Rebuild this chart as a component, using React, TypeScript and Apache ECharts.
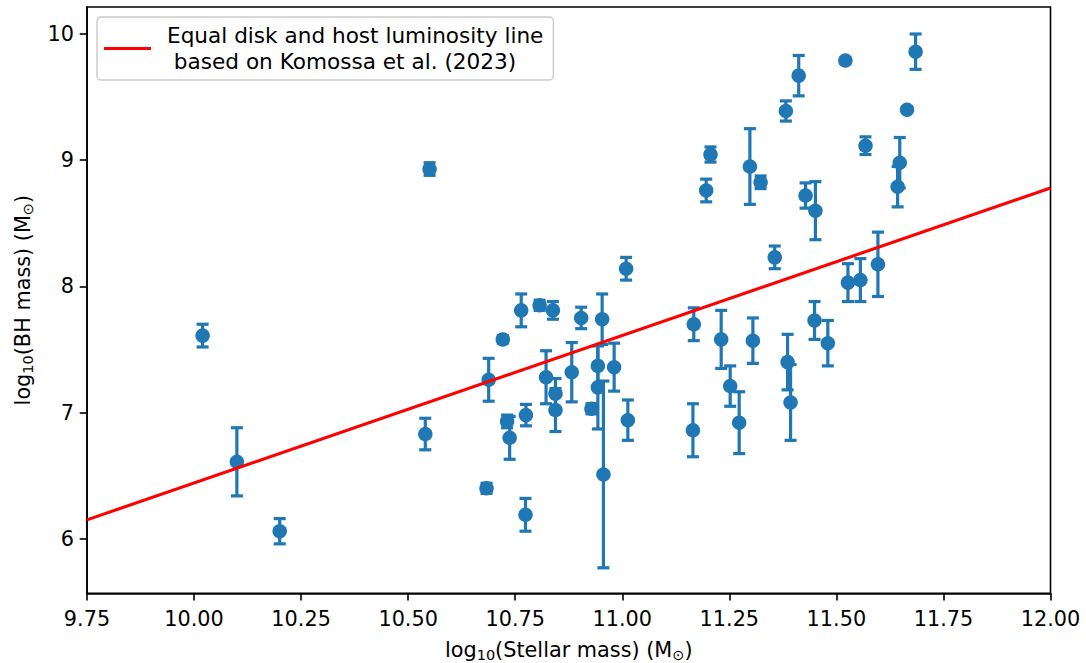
import React, { useEffect, useRef } from "react";
import * as echarts from "echarts";

// log10 stellar mass (x) and log10 BH mass (y) with symmetric 1-sigma errors
const stellarMass = [
  10.02, 10.10, 10.20, 10.54, 10.55, 10.683, 10.688, 10.721, 10.731, 10.737,
  10.764, 10.775, 10.774, 10.807, 10.822, 10.838, 10.844, 10.844, 10.882, 10.904,
  10.928, 10.943, 10.943, 10.953, 10.956, 10.981, 11.009, 11.013, 11.167, 11.165,
  11.196, 11.206, 11.231, 11.252, 11.273, 11.298, 11.305, 11.323, 11.356, 11.382,
  11.386, 11.393, 11.412, 11.428, 11.451, 11.449, 11.48, 11.521, 11.527, 11.556,
  11.568, 11.597, 11.643, 11.648, 11.665, 11.685,
];
const bhMass = [
  7.61, 6.61, 6.06, 6.83, 8.93, 6.40, 7.26, 7.58, 6.93, 6.80,
  7.81, 6.98, 6.19, 7.85, 7.28, 7.81, 7.15, 7.02, 7.32, 7.75,
  7.03, 7.37, 7.20, 7.74, 6.51, 7.36, 8.14, 6.94, 7.70, 6.86,
  8.76, 9.045, 7.58, 7.21, 6.92, 8.95, 7.57, 8.825, 8.23, 9.39,
  7.40, 7.08, 9.67, 8.72, 8.60, 7.73, 7.55, 9.79, 8.03, 8.05,
  9.115, 8.175, 8.79, 8.98, 9.40, 9.86,
];
const bhErr = [
  0.09, 0.27, 0.10, 0.125, 0.05, 0.04, 0.17, 0.03, 0.05, 0.17,
  0.13, 0.085, 0.13, 0.04, 0.21, 0.07, 0.12, 0.17, 0.235, 0.085,
  0.04, 0.16, 0.33, 0.2, 0.74, 0.19, 0.09, 0.16, 0.13, 0.21,
  0.09, 0.06, 0.23, 0.16, 0.245, 0.30, 0.18, 0.05, 0.09, 0.08,
  0.22, 0.30, 0.16, 0.10, 0.23, 0.15, 0.18, 0.02, 0.15, 0.17,
  0.07, 0.255, 0.16, 0.2, 0.02, 0.14,
];

// equal disk and host luminosity line (endpoints at the axis limits)
const lineX = [9.75, 12.0];
const lineY = [6.15, 8.78];

const xTicks = [9.75, 10.0, 10.25, 10.5, 10.75, 11.0, 11.25, 11.5, 11.75, 12.0];
const yTicks = [6, 7, 8, 9, 10];

const LEGEND_NAME = "Equal disk and host luminosity line\n based on Komossa et al. (2023)";
const BLUE = "#1f77b4";
const FONT = "DejaVu Sans";
const FS = 20.8;

const nameRich = {
  n: { fontSize: FS, fontFamily: FONT, color: "#000", lineHeight: 28, verticalAlign: "middle" },
  s: { fontSize: 14.5, fontFamily: FONT, color: "#000", verticalAlign: "middle", padding: [9, 0, 0, 0] },
};

export default function App() {
  const ref = useRef<HTMLDivElement>(null);
  useEffect(() => {
    if (!ref.current) return;
    const chart = echarts.init(ref.current, null, { renderer: "svg" });
    const errData = stellarMass.map((x, i) => [x, bhMass[i], bhMass[i] - bhErr[i], bhMass[i] + bhErr[i]]);
    const ptData = stellarMass.map((x, i) => [x, bhMass[i]]);
    const lineData = lineX.map((x, i) => [x, lineY[i]]);
    const option: any = {
      animation: false,
      backgroundColor: "#fff",
      grid: {
        left: 87,
        right: 35.5,
        top: 7,
        bottom: 69.7,
        containLabel: false,
        outerBoundsMode: "none",
        show: true,
        borderColor: "#000",
        borderWidth: 1.6,
        backgroundColor: "transparent",
      },
      legend: {
        show: true,
        data: [LEGEND_NAME],
        left: 97,
        top: 17,
        orient: "vertical",
        icon: "rect",
        itemWidth: 47,
        itemHeight: 3,
        padding: [5.5, 10, 5.5, 7],
        borderColor: "#cccccc",
        borderWidth: 1.5,
        borderRadius: 4,
        backgroundColor: "rgba(255,255,255,0.8)",
        textStyle: {
          fontSize: 21.6,
          fontFamily: FONT,
          color: "#000",
          lineHeight: 26,
          padding: [0, 0, 0, 11],
        },
      },
      xAxis: {
        type: "value",
        min: 9.75,
        max: 12,
        interval: 0.25,
        name: "{n|log}{s|10}{n|(Stellar mass) (M}{s|⊙}{n|)}",
        nameLocation: "middle",
        nameGap: 43,
        nameTextStyle: { rich: nameRich },
        axisLine: { show: true, lineStyle: { color: "#000", width: 1.6 } },
        axisTick: { show: true, length: 7.3, lineStyle: { color: "#000", width: 1.6 }, customValues: xTicks },
        axisLabel: {
          fontSize: FS,
          fontFamily: FONT,
          color: "#000",
          margin: 15,
          customValues: xTicks,
          formatter: (v: number) => v.toFixed(2),
        },
        splitLine: { show: false },
      },
      yAxis: {
        type: "value",
        min: 5.568,
        max: 10.214,
        name: "{n|log}{s|10}{n|(BH mass) (M}{s|⊙}{n|)}",
        nameLocation: "middle",
        nameGap: 50,
        nameTextStyle: { rich: nameRich },
        axisLine: { show: true, lineStyle: { color: "#000", width: 1.6 } },
        axisTick: { show: true, length: 7.3, lineStyle: { color: "#000", width: 1.6 }, customValues: yTicks },
        axisLabel: {
          fontSize: FS,
          fontFamily: FONT,
          color: "#000",
          margin: 13,
          customValues: yTicks,
          formatter: (v: number) => String(Math.round(v)),
        },
        splitLine: { show: false },
      },
      series: [
        {
          type: "custom",
          name: "errors",
          data: errData,
          encode: { x: 0, y: [1, 2, 3] },
          z: 2,
          silent: true,
          renderItem: (params: any, api: any) => {
            const x = api.value(0);
            const lo = api.value(2);
            const hi = api.value(3);
            const top = api.coord([x, hi]);
            const bot = api.coord([x, lo]);
            const half = 6;
            const style = { stroke: BLUE, lineWidth: 3.2, fill: null };
            return {
              type: "group",
              children: [
                { type: "line", shape: { x1: top[0], y1: top[1], x2: bot[0], y2: bot[1] }, style },
                { type: "line", shape: { x1: top[0] - half, y1: top[1], x2: top[0] + half, y2: top[1] }, style },
                { type: "line", shape: { x1: bot[0] - half, y1: bot[1], x2: bot[0] + half, y2: bot[1] }, style },
              ],
            };
          },
        },
        {
          type: "scatter",
          name: "points",
          data: ptData,
          symbol: "circle",
          symbolSize: 14.5,
          itemStyle: { color: BLUE, opacity: 1 },
          z: 3,
          silent: true,
        },
        {
          type: "line",
          name: LEGEND_NAME,
          data: lineData,
          color: "#ff0000",
          showSymbol: false,
          symbol: "none",
          lineStyle: { color: "#ff0000", width: 3.1 },
          itemStyle: { color: "#ff0000" },
          z: 4,
          silent: true,
        },
      ],
    };
    chart.setOption(option);
    return () => chart.dispose();
  }, []);
  return (
    <div
      ref={ref}
      style={{ position: "fixed", left: 0, top: 0, width: 1086, height: 663, background: "#fff" }}
    />
  );
}
